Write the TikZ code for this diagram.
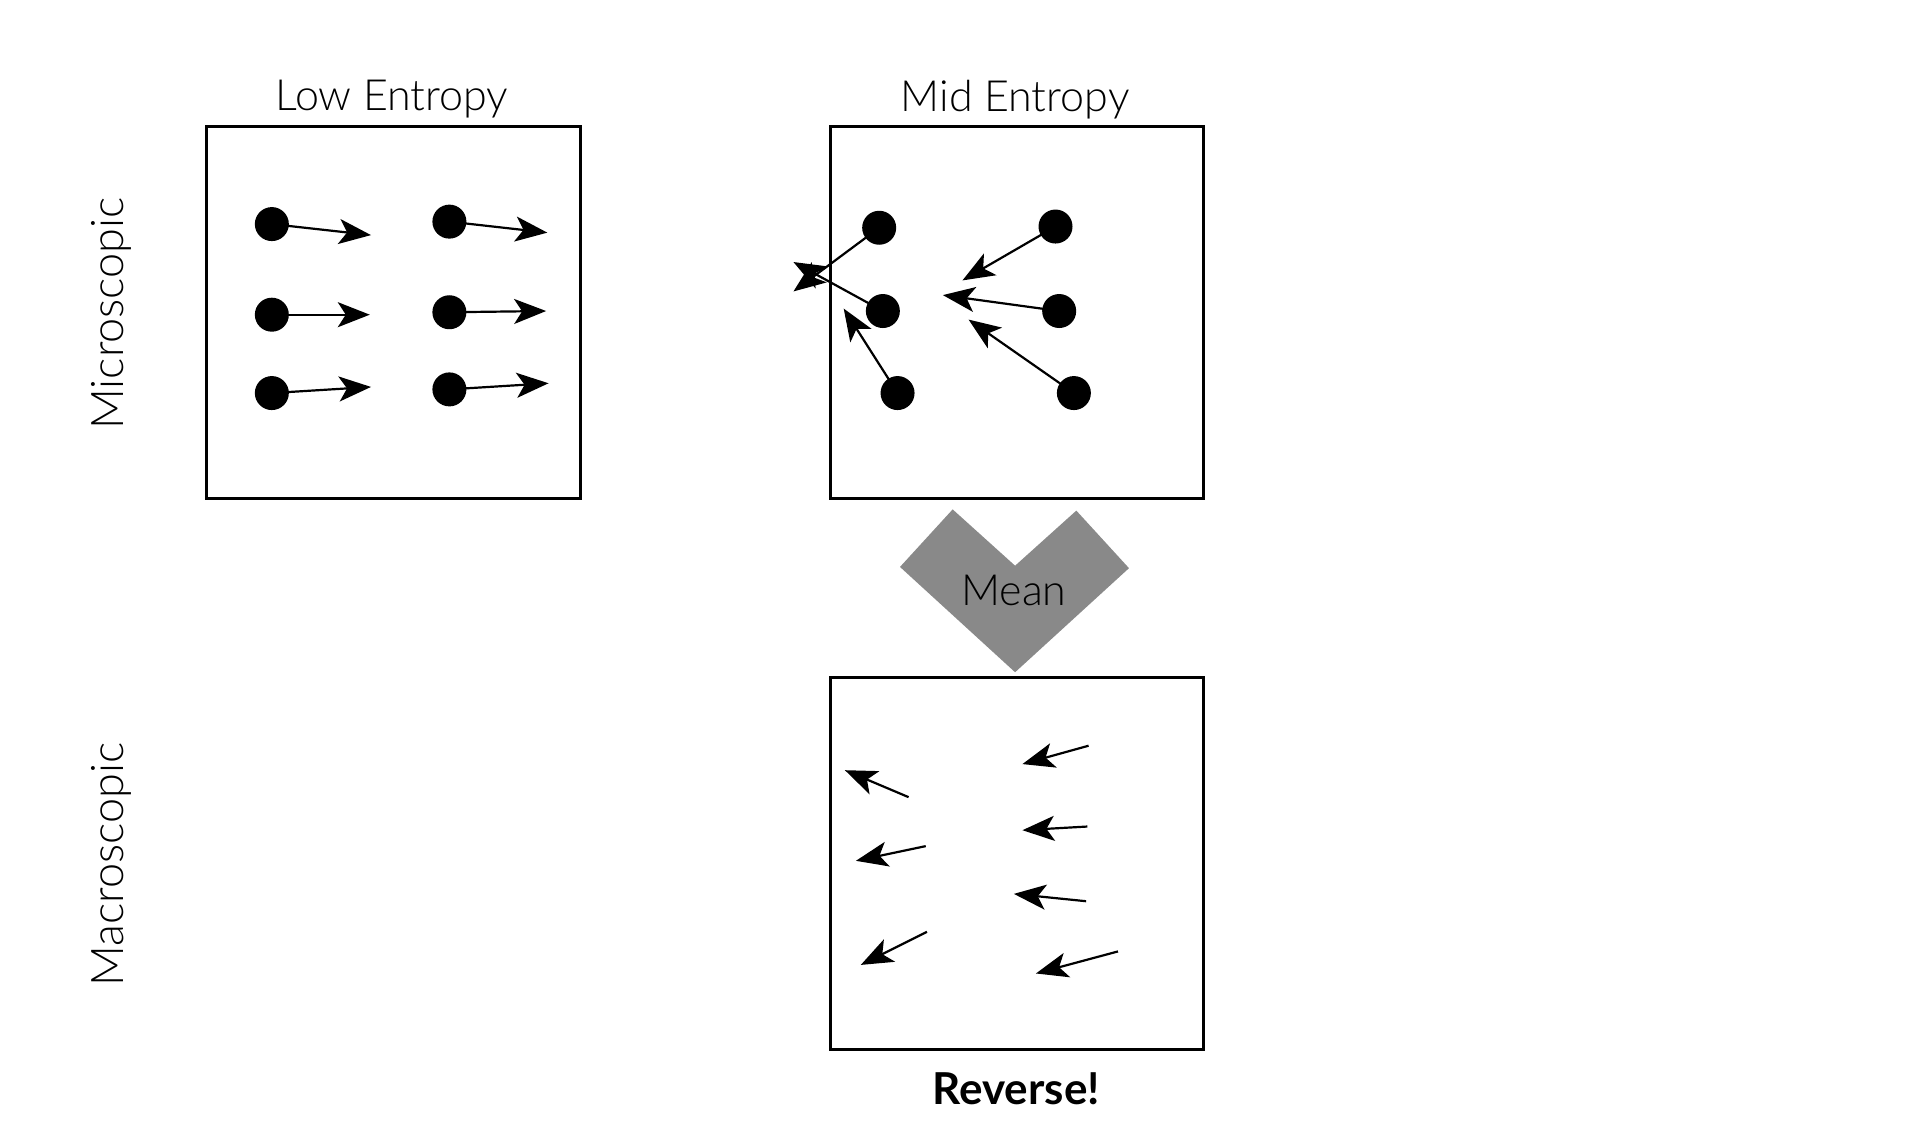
\documentclass[tikz,border=0pt]{standalone}
\usepackage{fontspec}
\setmainfont{Lato}
\newfontfamily\lightf{Lato Light}
\usetikzlibrary{arrows.meta}
\tikzset{
  box/.style={draw=black, line width=3pt},
  dot/.style={circle, fill=black, inner sep=0pt, minimum size=34pt},
  vec/.style={line width=2.2pt, -{Stealth[length=32pt,width=25pt,inset=8pt]}},
  title/.style={font=\lightf\fontsize{43}{50}\selectfont},
  side/.style={font=\lightf\fontsize{45}{52}\selectfont, rotate=90},
}
\begin{document}
\begin{tikzpicture}[x=1.2245pt, y=-1.2245pt]
\useasboundingbox (0,0) rectangle (1568,926);
% boxes
\draw[box] (169,103) rectangle (474,407);
\draw[box] (678,103) rectangle (983,407);
\draw[box] (678,553) rectangle (983,857);
% titles
\node[title] (tl) at (320,81) {Low Entropy};
\node[title] (tm) at (829,81) {Mid Entropy};
\node[side] (mic) at (91,256) {Microscopic};
\node[side] (mac) at (91,706) {Macroscopic};
\node[font=\bfseries\fontsize{44}{50}\selectfont] (rev) at (830,889) {Reverse!};
% mean shape
\fill[fill={rgb,255:red,137;green,137;blue,137}] (778,416) -- (829,462) -- (879,417) -- (922,464) -- (829,549) -- (735,463) -- cycle;
\node[title] (mean) at (828,482) {Mean};
% low entropy
\node[dot] (l1) at (222,183) {};
\node[dot] (l2) at (367,181) {};
\node[dot] (l3) at (222,257) {};
\node[dot] (l4) at (367,255) {};
\node[dot] (l5) at (222,321) {};
\node[dot] (l6) at (367,318) {};
\coordinate (lt1) at (303,192);
\coordinate (lt2) at (447,190);
\coordinate (lt3) at (302,257);
\coordinate (lt4) at (446,254);
\coordinate (lt5) at (303,316);
\coordinate (lt6) at (448,313);
\foreach \i in {1,...,6} \draw[vec] (l\i.center) -- (lt\i);
% mid entropy
\node[dot] (m1) at (718,186) {};
\node[dot] (m2) at (862,185) {};
\node[dot] (m3) at (721,254) {};
\node[dot] (m4) at (865,254) {};
\node[dot] (m5) at (733,321) {};
\node[dot] (m6) at (877,321) {};
\coordinate (mt1) at (648,238);
\coordinate (mt2) at (786,229);
\coordinate (mt3) at (648,214);
\coordinate (mt4) at (770,241);
\coordinate (mt5) at (689,252);
\coordinate (mt6) at (791,261);
\foreach \i in {1,...,6} \draw[vec] (m\i.center) -- (mt\i);
% macroscopic arrows
\coordinate (a1) at (742,651); \coordinate (b1) at (690,629);
\coordinate (a2) at (756,691); \coordinate (b2) at (699,703);
\coordinate (a3) at (757,761); \coordinate (b3) at (703,788);
\coordinate (a4) at (889,609); \coordinate (b4) at (835,624);
\coordinate (a5) at (888,675); \coordinate (b5) at (835,678);
\coordinate (a6) at (887,736); \coordinate (b6) at (828,730);
\coordinate (a7) at (913,777); \coordinate (b7) at (846,795);
\foreach \i in {1,...,7} \draw[vec] (a\i) -- (b\i);
\end{tikzpicture}
\end{document}
